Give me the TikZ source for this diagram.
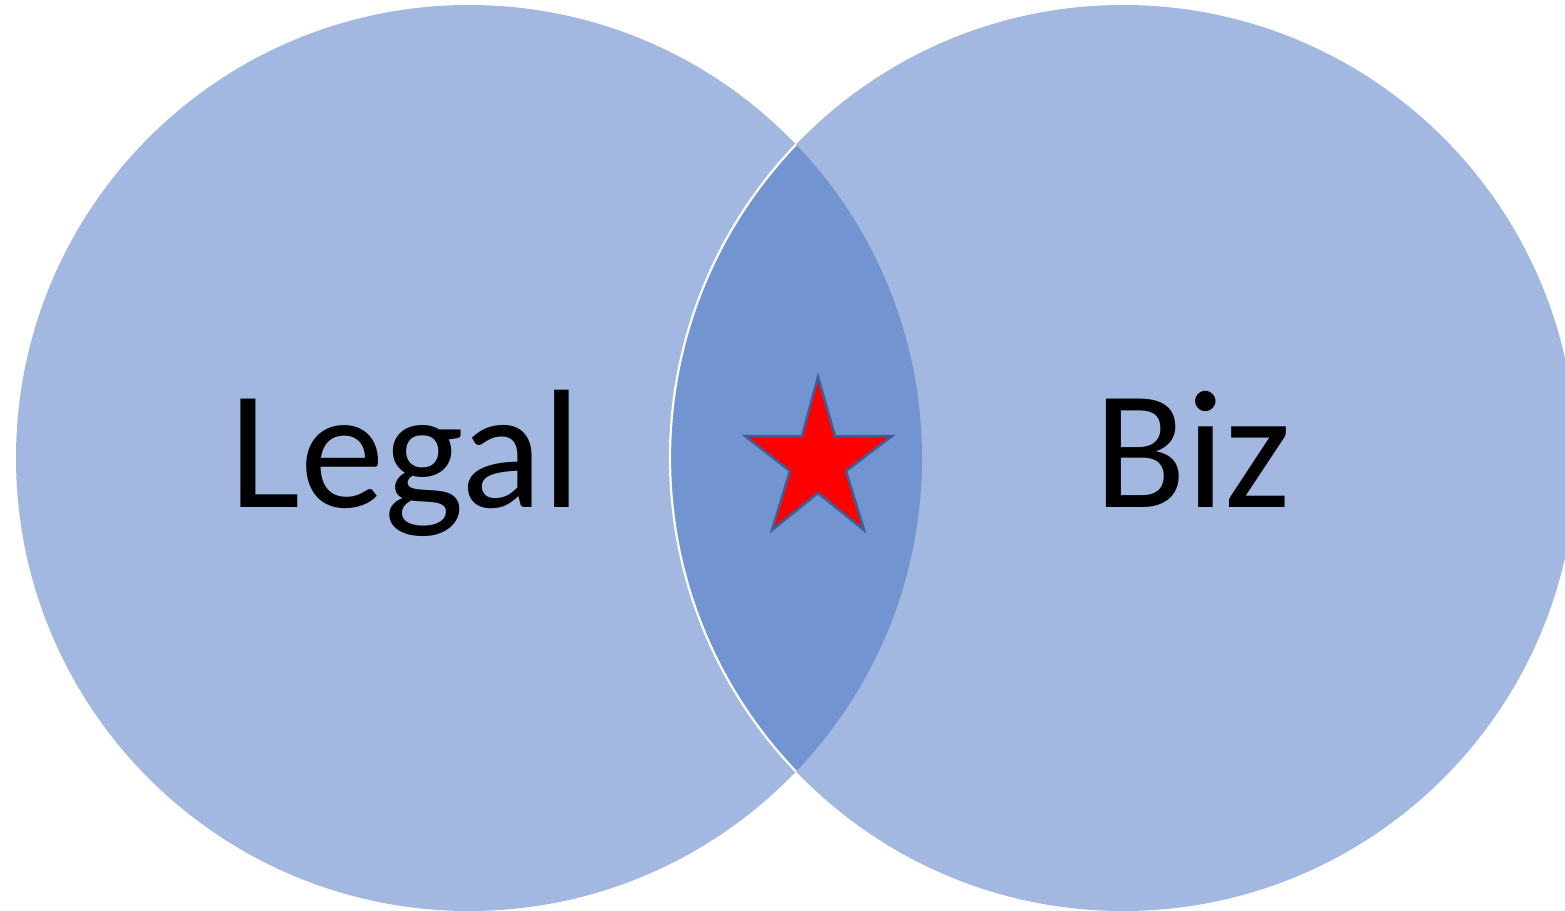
\documentclass[tikz,border=0pt]{standalone}
\usepackage{fontspec}
\setmainfont{Carlito}
\definecolor{lightc}{HTML}{A2B8E0}
\definecolor{darkc}{HTML}{7294D0}
\definecolor{starborder}{HTML}{3F5E96}
\begin{document}
\begin{tikzpicture}[x=1pt,y=-1pt,
  lbl/.style={anchor=base,inner sep=0pt,font=\fontsize{169}{169}\selectfont}]
\useasboundingbox (0,0) rectangle (1565,910);
\clip (0,0) rectangle (1565,910);
\fill[lightc] (469,458) circle[radius=453];
\fill[lightc] (1123,458) circle[radius=453];
\begin{scope}
  \clip (469,458) circle[radius=453];
  \fill[darkc] (1123,458) circle[radius=453];
\end{scope}
\begin{scope}
  \clip (469,458) circle[radius=453];
  \draw[white,line width=2.2pt] (1123,458) circle[radius=453];
\end{scope}
\draw[starborder,line width=2.5pt,fill=red,line join=miter]
  (818,377) -- (835,436) -- (892,436) -- (846,471) -- (864,530) --
  (818,493) -- (772,530) -- (790,471) -- (745,436) -- (802,436) -- cycle;
\node[lbl] (legal) at (405,507) {Legal};
\node[lbl] (biz) at (1193,507) {Biz};
\end{tikzpicture}
\end{document}
